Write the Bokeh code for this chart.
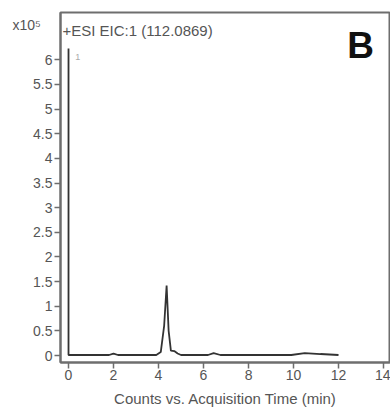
from bokeh.plotting import figure
from bokeh.models import Range1d, FixedTicker, Label, Title
from bokeh.embed import file_html
from bokeh.resources import INLINE

# Data (counts in units of 10^5)
rt = [0.0, 0.0, 0.3, 1.8, 2.0, 2.2, 3.9, 4.1, 4.25, 4.36, 4.45, 4.55, 4.7, 4.85, 5.0,
      6.2, 6.45, 6.75, 9.9, 10.5, 11.2, 12.0]
counts = [6.23, 0.01, 0.01, 0.01, 0.04, 0.01, 0.01, 0.07, 0.6, 1.42, 0.5, 0.1, 0.09,
          0.04, 0.01, 0.01, 0.05, 0.01, 0.01, 0.05, 0.03, 0.01]
x_ticks = [0, 2, 4, 6, 8, 10, 12, 14]
y_ticks = [0, 0.5, 1, 1.5, 2, 2.5, 3, 3.5, 4, 4.5, 5, 5.5, 6]
y_labels = {t: ("%g" % t) for t in y_ticks}

FONT = "Liberation Sans"
GREY = "#555555"
AXIS = "#6e6e6e"

p = figure(width=390, height=410, output_backend="svg", toolbar_location=None,
           x_range=Range1d(-0.356, 14.31), y_range=Range1d(-0.142, 6.96),
           min_border_left=60, min_border_right=0, min_border_top=12, min_border_bottom=48)

p.grid.visible = False
p.outline_line_color = AXIS
p.outline_line_width = 2
p.background_fill_color = "white"
p.border_fill_color = "white"

p.line(rt, counts, line_color="#333333", line_width=1.8)

for ax in (p.xaxis[0], p.yaxis[0]):
    ax.axis_line_color = AXIS
    ax.axis_line_width = 2
    ax.major_tick_line_color = AXIS
    ax.major_tick_line_width = 1.5
    ax.major_tick_in = 0
    ax.major_tick_out = 6
    ax.minor_tick_line_color = None
    ax.major_label_text_font = FONT
    ax.major_label_text_font_size = "14px"
    ax.major_label_text_color = GREY

p.xaxis.ticker = FixedTicker(ticks=x_ticks)
p.yaxis.ticker = FixedTicker(ticks=y_ticks)
p.yaxis.major_label_overrides = y_labels
p.yaxis.major_label_standoff = 2
p.xaxis.major_label_standoff = 1

p.xaxis.axis_label = "Counts vs. Acquisition Time (min)"
p.xaxis.axis_label_text_font = FONT
p.xaxis.axis_label_text_font_style = "normal"
p.xaxis.axis_label_text_font_size = "15px"
p.xaxis.axis_label_text_color = GREY
p.xaxis.axis_label_standoff = 7

p.add_layout(Title(text="x10\u2075", align="left", offset=-48, standoff=-40,
                   text_font=FONT, text_font_size="14px", text_font_style="normal",
                   text_color=GREY), "above")

p.add_layout(Label(x=-0.27, y=6.59, text="+ESI EIC:1 (112.0869)", text_font=FONT,
                   text_font_size="15px", text_color=GREY, text_baseline="middle"))
p.add_layout(Label(x=0.3, y=6.05, text="1", text_font=FONT,
                   text_font_size="9px", text_color="#aaaaaa", text_baseline="middle"))
p.add_layout(Label(x=12.98, y=6.29, text="B", text_font=FONT, text_font_style="bold",
                   text_font_size="37px", text_color="#111111", text_align="center",
                   text_baseline="middle"))

open("out.html", "w").write(file_html(p, INLINE))
